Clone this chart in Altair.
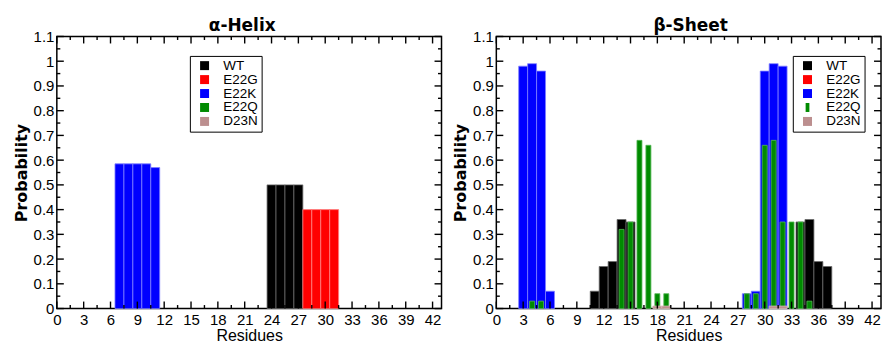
import altair as alt
import pandas as pd

# ---------------- data ----------------
series_names = ["WT", "E22G", "E22K", "E22Q", "D23N"]
series_colors = ["#000000", "#ff0000", "#0000ff", "#008b00", "#bc8f8f"]
edge_colors = ["#6a6a6a", "#ff8080", "#8080ff", "#55b855", "#d6b8b8"]

x_major = [0, 3, 6, 9, 12, 15, 18, 21, 24, 27, 30, 33, 36, 39, 42]
x_minor = [1.5, 4.5, 7.5, 10.5, 13.5, 16.5, 19.5, 22.5, 25.5, 28.5, 31.5, 34.5, 37.5, 40.5]
y_major = [0, 0.1, 0.2, 0.3, 0.4, 0.5, 0.6, 0.7, 0.8, 0.9, 1.0, 1.1]
y_minor = [0.05, 0.15, 0.25, 0.35, 0.45, 0.55, 0.65, 0.75, 0.85, 0.95, 1.05]

# alpha-helix
helix_wt_res = [24, 25, 26, 27]
helix_wt_val = [0.50, 0.50, 0.50, 0.50]
helix_e22g_res = [28, 29, 30, 31]
helix_e22g_val = [0.40, 0.40, 0.40, 0.40]
helix_e22k_res = [7, 8, 9, 10, 11]
helix_e22k_val = [0.585, 0.585, 0.585, 0.585, 0.57]

# beta-sheet
sheet_wt_res = [11, 12, 13, 14, 15, 34, 35, 36, 37]
sheet_wt_val = [0.07, 0.17, 0.19, 0.36, 0.35, 0.35, 0.36, 0.19, 0.17]
sheet_e22k_res = [3, 4, 5, 6, 28, 29, 30, 31, 32]
sheet_e22k_val = [0.98, 0.99, 0.96, 0.07, 0.06, 0.07, 0.96, 0.99, 0.98]
sheet_e22q_res = [4, 5, 14, 15, 16, 17, 18, 19, 28, 29, 30, 31, 32, 33, 34, 35]
sheet_e22q_val = [0.03, 0.03, 0.32, 0.35, 0.68, 0.66, 0.06, 0.06, 0.06, 0.06,
                  0.66, 0.68, 0.35, 0.35, 0.35, 0.03]
sheet_d23n_res = [18, 19, 31, 32]
sheet_d23n_val = [0.01, 0.01, 0.01, 0.01]

W, H = 386, 273
FONT = "Liberation Sans"
BOLD_FONT = "DejaVu Sans"

square = "M-1,-1H1V1H-1Z"
narrow = "M-0.42,-1H0.42V1H-0.42Z"

fill_of = dict(zip(series_names, series_colors))
edge_of = dict(zip(series_names, edge_colors))


def make_df(parts):
    rows = []
    for name, res, val, hw in parts:
        for r, v in zip(res, val):
            rows.append({"series": name, "residue": r, "value": v, "hw": hw,
                         "fillc": fill_of[name], "edgec": edge_of[name]})
    return pd.DataFrame(rows)


helix_df = make_df([
    ("WT", helix_wt_res, helix_wt_val, 0.5),
    ("E22G", helix_e22g_res, helix_e22g_val, 0.5),
    ("E22K", helix_e22k_res, helix_e22k_val, 0.5),
])
sheet_df = make_df([
    ("WT", sheet_wt_res, sheet_wt_val, 0.5),
    ("E22K", sheet_e22k_res, sheet_e22k_val, 0.5),
    ("E22Q", sheet_e22q_res, sheet_e22q_val, 0.28),
    ("D23N", sheet_d23n_res, sheet_d23n_val, 0.5),
])


def panel(df, title, title_dx, leg_x, leg_y, shapes):
    xscale = alt.Scale(domain=[0, 43], nice=False, zero=False)
    yscale = alt.Scale(domain=[0, 1.1], nice=False)
    cscale = alt.Scale(domain=series_names, range=series_colors)
    xaxis = alt.Axis(values=x_major, ticks=False, tickSize=0, domain=False, grid=False,
                     labelFont=FONT, labelFontSize=15, labelColor="black",
                     labelPadding=4, labelFlush=False, labelOverlap=False,
                     titleFont=FONT, titleFontSize=16, titleFontWeight="normal",
                     titleColor="black", titlePadding=0)
    yaxis = alt.Axis(values=y_major, format="~g", ticks=False, tickSize=0, domain=False,
                     grid=False, labelFont=FONT, labelFontSize=15, labelColor="black",
                     labelPadding=3, labelFlush=False, labelOverlap=False,
                     titleFont=BOLD_FONT, titleFontSize=16, titleFontWeight="bold",
                     titleColor="black", titlePadding=4)

    bars = alt.Chart(df).transform_calculate(
        x0="datum.residue - datum.hw", x1="datum.residue + datum.hw"
    ).mark_bar(strokeWidth=0.8).encode(
        x=alt.X("x0:Q", scale=xscale, axis=xaxis, title="Residues"),
        x2="x1:Q",
        y=alt.Y("value:Q", scale=yscale, axis=yaxis, title="Probability"),
        y2=alt.datum(0),
        fill=alt.Fill("fillc:N", scale=None),
        stroke=alt.Stroke("edgec:N", scale=None),
    )

    layers = [bars]
    xmaj = pd.DataFrame({"t": x_major})
    xmin = pd.DataFrame({"t": x_minor})
    ymaj = pd.DataFrame({"t": y_major})
    ymin = pd.DataFrame({"t": y_minor})
    X = lambda: alt.X("t:Q", scale=xscale, axis=xaxis, title="Residues")
    Y = lambda: alt.Y("t:Q", scale=yscale, axis=yaxis, title="Probability")
    for data, L in [(xmaj, 7), (xmin, 3.5)]:
        base = alt.Chart(data).mark_rule(color="black", strokeWidth=1.4)
        layers.append(base.encode(x=X(), y=alt.value(H), y2=alt.value(H - L)))
        layers.append(base.encode(x=X(), y=alt.value(0), y2=alt.value(L)))
    for data, L in [(ymaj, 7), (ymin, 3.5)]:
        base = alt.Chart(data).mark_rule(color="black", strokeWidth=1.4)
        layers.append(base.encode(y=Y(), x=alt.value(0), x2=alt.value(L)))
        layers.append(base.encode(y=Y(), x=alt.value(W), x2=alt.value(W - L)))

    leg = alt.Legend(orient="none", legendX=leg_x, legendY=leg_y, title=None,
                     symbolSize=81, symbolStrokeWidth=0, symbolOpacity=1,
                     labelFont=FONT, labelFontSize=13.5, labelColor="black",
                     labelOffset=12, padding=3, symbolOffset=5, rowPadding=-1.3,
                     strokeColor="black", fillColor="white")
    legend_layer = alt.Chart(pd.DataFrame({"series": series_names})).mark_point(
        filled=True, opacity=0, strokeWidth=0
    ).encode(
        x=alt.value(W / 2), y=alt.value(H / 2),
        color=alt.Color("series:N", scale=cscale, legend=leg),
        shape=alt.Shape("series:N", scale=alt.Scale(domain=series_names, range=shapes),
                        legend=leg),
    )
    layers.append(legend_layer)

    return alt.layer(*layers).properties(
        width=W, height=H,
        title=alt.TitleParams(title, font=BOLD_FONT, fontSize=17, fontWeight="bold",
                              color="black", anchor="middle", frame="group",
                              baseline="bottom", offset=-22, dx=title_dx),
    )


left = panel(helix_df, "α-Helix", -7, 133.5, 19.5, [square] * 5)
right = panel(sheet_df, "β-Sheet", 2, 297.5, 19.5, [square, square, square, narrow, square])

chart = alt.hconcat(left, right, spacing=8).resolve_scale(
    color="independent", shape="independent"
).resolve_legend(color="independent", shape="independent").configure_view(
    stroke="black", strokeWidth=1.5
).properties(
    padding={"left": 4, "top": 7, "right": 0, "bottom": 0}, background="white"
)

chart.save("out.html", embed_options={"renderer": "svg", "actions": False})
